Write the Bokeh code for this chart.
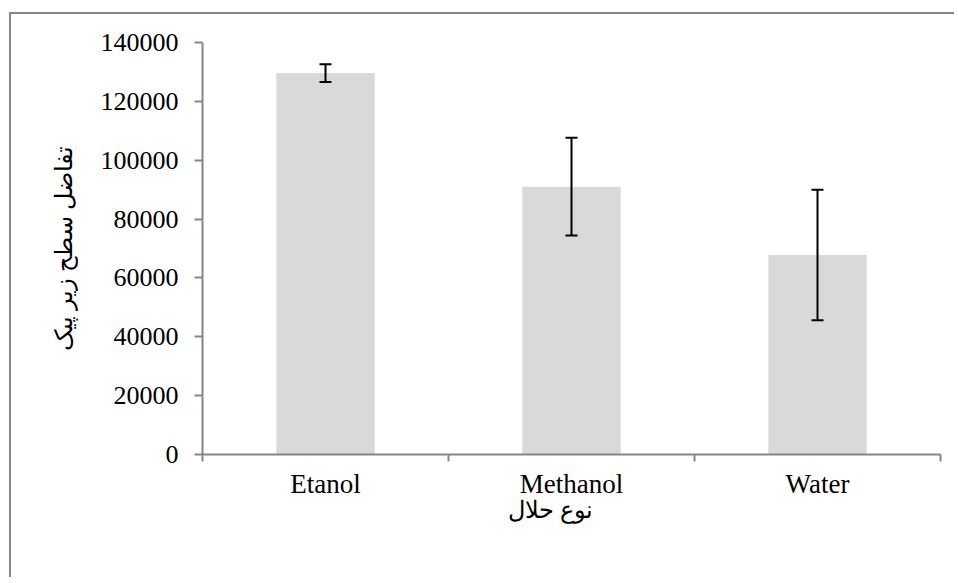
from bokeh.plotting import figure
from bokeh.models import Range1d, FixedTicker, Whisker, ColumnDataSource, TeeHead, Title
from bokeh.embed import file_html
from bokeh.resources import INLINE

categories = ["Etanol", "Methanol", "Water"]
values = [129600, 91000, 67800]
errors = [3000, 16600, 22200]
y_ticks = [0, 20000, 40000, 60000, 80000, 100000, 120000, 140000]
x_title = "نوع حلال"
y_title = "تفاضل سطح زیر پیک"

xs = [i + 0.5 for i in range(len(categories))]
src = ColumnDataSource(dict(
    x=xs, top=values,
    upper=[v + e for v, e in zip(values, errors)],
    lower=[v - e for v, e in zip(values, errors)],
))

p = figure(width=945, height=565, output_backend="svg", toolbar_location=None,
           x_range=Range1d(0, len(categories)), y_range=Range1d(0, 140000),
           min_border_left=191, min_border_top=28, min_border_right=16,
           min_border_bottom=125)
p.margin = (12, 0, 0, 9)
p.styles = {"border-left": "2px solid #868686", "border-top": "2px solid #868686"}
p.outline_line_color = None
p.grid.visible = False

p.vbar(x="x", top="top", width=0.4, source=src, fill_color="#d9d9d9", line_color=None)
w = Whisker(base="x", upper="upper", lower="lower", source=src,
            line_color="black", line_width=2, level="overlay",
            upper_head=TeeHead(size=12, line_width=2, line_color="black"),
            lower_head=TeeHead(size=12, line_width=2, line_color="black"))
p.add_layout(w)

FONT = "Liberation Serif"
xa = p.xaxis[0]
xa.ticker = FixedTicker(ticks=xs, minor_ticks=list(range(len(categories) + 1)))
xa.major_label_overrides = {x: c for x, c in zip(xs, categories)}
xa.major_tick_out = 0
xa.major_tick_in = 0
xa.minor_tick_out = 7
xa.minor_tick_in = 0
xa.minor_tick_line_color = "#868686"
xa.minor_tick_line_width = 2
xa.axis_line_color = "#868686"
xa.axis_line_width = 2
xa.major_label_text_font = FONT
xa.major_label_text_font_size = "27px"
xa.major_label_text_color = "black"
xa.major_label_standoff = 7

p.add_layout(Title(text=x_title, align="left", offset=305, standoff=-14,
                   text_font=FONT, text_font_size="24px", text_color="black",
                   text_font_style="normal"), "below")

ya = p.yaxis[0]
ya.ticker = FixedTicker(ticks=y_ticks)
ya.major_label_overrides = {t: str(t) for t in y_ticks}
ya.minor_tick_line_color = None
ya.major_tick_out = 8
ya.major_tick_in = 0
ya.major_tick_line_color = "#868686"
ya.major_tick_line_width = 2
ya.axis_line_color = "#868686"
ya.axis_line_width = 2
ya.major_label_text_font = FONT
ya.major_label_text_font_size = "26px"
ya.major_label_text_color = "black"
ya.major_label_standoff = 16
ya.axis_label = y_title
ya.axis_label_text_font = FONT
ya.axis_label_text_font_style = "normal"
ya.axis_label_text_font_size = "24px"
ya.axis_label_text_color = "black"
ya.axis_label_standoff = 21

open("out.html", "w").write(file_html(p, INLINE))
